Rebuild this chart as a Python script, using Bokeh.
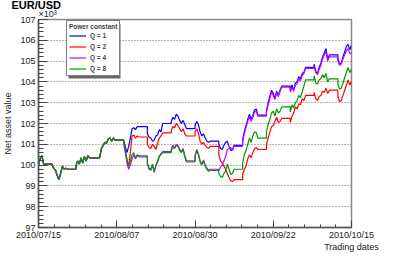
import datetime as dt
from bokeh.plotting import figure
from bokeh.models import FixedTicker, Legend, LegendItem, BoxAnnotation, Title
from bokeh.embed import file_html
from bokeh.resources import INLINE

# ---------------- data ----------------
title_text = "EUR/USD"
x_title = "Trading dates"
y_title = "Net asset value"
y_exponent = "×10³"
legend_header = "Power constant"
series_names = ["Q = 1", "Q = 2", "Q = 4", "Q = 8"]
series_colors = ["#0000ff", "#ff0000", "#cc00ff", "#009900"]
x_tick_days = [0, 23, 46, 69, 92]
x_tick_labels = ["2010/07/15", "2010/08/07", "2010/08/30", "2010/09/22", "2010/10/15"]
y_ticks = list(range(97, 108))
start_date = dt.date(2010, 7, 15)
end_date = dt.date(2010, 10, 15)

# two readings per trading day (x10^3), identical for all Q until 2010/08/06
common_start = [
    100.0, 100.3, 100.45, 100.05,
    100.0, 99.85, 99.75, 99.5, 99.3, 99.6, 99.95, 99.8, 99.85, 99.8,
    99.95, 100.2, 100.05, 100.35, 100.1, 100.4, 100.2, 100.45, 100.35, 100.35,
    100.4, 100.8, 100.95, 101.1, 101.05, 101.25, 101.3, 101.15, 101.3, 101.2,
]

q1_tail = [
    101.2, 100.9, 100.6, 100.9, 101.3, 101.75, 101.8, 101.7, 101.85, 101.85,
    101.5, 101.35, 101.3, 101.15, 101.2, 101.4, 101.45, 101.7, 101.6, 102.0,
    102.1, 102.3, 102.2, 102.45, 102.35, 102.15, 102.0, 102.15, 101.95, 101.75,
    101.9, 102.1, 101.95, 101.6, 101.4, 101.5, 101.3, 101.15, 101.1, 101.15,
    101.0, 100.8, 100.75, 100.95, 101.1, 101.15, 100.9, 100.7, 100.75, 100.95,
    101.2, 101.6, 101.9, 102.2, 102.45, 102.2, 102.4, 102.65, 102.7, 102.4,
    102.6, 103.0, 103.3, 103.6, 103.45, 103.2, 103.55, 103.35, 103.6, 103.8,
    103.6, 103.85, 103.6, 103.95, 104.0, 104.25, 104.15, 104.4, 104.45, 104.7,
    104.85, 104.5, 104.4, 104.7, 104.9, 105.2, 105.4, 105.6, 105.1, 105.3,
    105.1, 104.85, 104.9, 105.2, 105.45, 105.7, 105.8, 105.55, 105.75,
]

q2_tail = [
    101.2, 100.8, 100.2, 99.95, 100.6, 101.4, 101.45, 101.3, 101.4, 101.35,
    101.0, 100.85, 100.8, 101.0, 100.9, 100.75, 101.05, 101.3, 101.4, 101.55,
    101.65, 101.85, 101.8, 102.0, 101.9, 101.75, 101.6, 101.75, 101.5, 101.4,
    101.6, 101.75, 101.55, 101.15, 101.0, 101.1, 100.95, 100.85, 100.8, 100.9,
    100.5, 100.2, 100.1, 99.95, 99.8, 99.6, 99.4, 99.25, 99.2, 99.3,
    99.55, 99.8, 99.95, 100.3, 100.5, 100.35, 100.6, 100.8, 100.85, 100.75,
    101.0, 101.3, 101.6, 101.85, 101.9, 102.1, 102.3, 102.05, 102.1, 102.25,
    102.05, 102.35, 102.5, 102.8, 102.7, 102.95, 102.9, 103.2, 103.1, 103.35,
    103.5, 103.2, 103.1, 103.3, 103.35, 103.55, 103.5, 103.7, 103.45, 103.6,
    103.3, 103.05, 103.1, 103.35, 103.6, 103.85, 104.1, 103.85, 104.0,
]

q4_tail = [
    101.1, 100.6, 100.1, 99.8, 100.0, 100.3, 100.5, 100.3, 100.45, 100.4,
    100.05, 99.8, 99.75, 100.0, 99.65, 99.95, 100.15, 100.4, 100.55, 100.65,
    100.75, 100.95, 100.85, 101.0, 100.95, 100.75, 100.65, 100.8, 100.45, 100.2,
    100.45, 100.75, 100.55, 100.2, 100.05, 100.25, 100.0, 99.85, 99.75, 99.8,
    99.75, 99.9, 100.0, 100.2, 100.4, 100.75, 100.8, 100.85, 100.7, 100.9,
    101.15, 101.5, 101.8, 102.1, 102.35, 102.1, 102.3, 102.55, 102.6, 102.35,
    102.55, 102.9, 103.2, 103.5, 103.35, 103.15, 103.5, 103.3, 103.55, 103.75,
    103.5, 103.75, 103.55, 103.85, 103.9, 104.15, 104.05, 104.3, 104.4, 104.65,
    104.75, 104.45, 104.35, 104.6, 104.8, 105.1, 105.3, 105.45, 105.0, 105.2,
    105.0, 104.8, 104.85, 105.1, 105.3, 105.5, 105.6, 105.35, 105.4,
]

q8_tail = [
    101.1, 100.7, 100.3, 99.95, 100.2, 100.5, 100.6, 100.35, 100.5, 100.45,
    100.1, 99.85, 99.8, 100.05, 99.7, 100.0, 100.2, 100.45, 100.5, 100.6,
    100.7, 100.85, 100.8, 100.95, 100.9, 100.7, 100.6, 100.75, 100.4, 100.15,
    100.4, 100.7, 100.5, 100.15, 100.0, 100.2, 99.95, 99.8, 99.7, 99.75,
    99.6, 99.45, 99.4, 99.6, 99.7, 100.05, 99.8, 99.55, 99.6, 99.8,
    100.1, 100.5, 100.7, 101.0, 101.3, 101.1, 101.4, 101.6, 101.55, 101.3,
    101.6, 101.95, 102.2, 102.5, 102.6, 102.35, 102.7, 102.5, 102.6, 102.8,
    102.55, 102.9, 102.75, 103.0, 103.1, 103.35, 103.25, 103.5, 103.8, 104.1,
    104.3, 103.95, 103.9, 104.1, 104.15, 104.35, 104.2, 104.4, 104.0, 104.15,
    103.9, 103.65, 103.7, 103.95, 104.2, 104.45, 104.7, 104.45, 104.6,
]

series_values = [common_start + q1_tail, common_start + q2_tail,
                 common_start + q4_tail, common_start + q8_tail]

# trading days (calendar-day offsets from 2010/07/15)
days = []
d = start_date
while d <= end_date:
    if d.weekday() < 5:
        days.append((d - start_date).days)
    d += dt.timedelta(days=1)


def build(values):
    xs, ys = [], []
    i = 0
    prev = None
    for n, k in enumerate(days):
        if prev is not None and k - prev > 1:
            xs.append(k)
            ys.append(ys[-1])  # market closed over the weekend
        samples = 1 if n == len(days) - 1 else 2
        for s in range(samples):
            xs.append(k + 0.5 * s)
            ys.append(values[i])
            i += 1
        prev = k
    assert i == len(values), (i, len(values))
    return xs, ys


# ---------------- figure ----------------
FONT = "Liberation Sans"
TXT = "#222222"
p = figure(width=383, height=254, x_range=(0, 92), y_range=(97, 107),
           output_backend="svg", toolbar_location=None,
           min_border_left=32, min_border_right=32,
           min_border_top=19, min_border_bottom=21)
p.background_fill_color = "white"
p.border_fill_color = "white"
p.outline_line_color = "#8a8a8a"
p.outline_line_width = 1.5

p.xgrid.visible = False
p.ygrid.ticker = FixedTicker(ticks=y_ticks[1:-1])
p.ygrid.grid_line_color = "#666666"
p.ygrid.grid_line_dash = "1 2"
p.ygrid.grid_line_width = 1

xmin = [x_tick_days[0] + j * (x_tick_days[1] - x_tick_days[0]) / 5 for j in range(21)]
p.xaxis.ticker = FixedTicker(ticks=x_tick_days, minor_ticks=xmin)
p.xaxis.major_label_overrides = {t: l for t, l in zip(x_tick_days, x_tick_labels)}
ymin = [97 + 0.2 * j for j in range(51)]
p.yaxis.ticker = FixedTicker(ticks=y_ticks, minor_ticks=ymin)

for ax in (p.xaxis[0], p.yaxis[0]):
    ax.axis_line_color = "#555555"
    ax.axis_line_width = 1.5
    ax.major_tick_line_color = "#444444"
    ax.minor_tick_line_color = "#444444"
    ax.major_tick_out = 0
    ax.minor_tick_out = 0
    ax.major_label_text_font = FONT
    ax.major_label_text_font_size = "9px"
    ax.major_label_text_color = TXT
    ax.axis_label_text_font = FONT
    ax.axis_label_text_font_size = "9px"
    ax.axis_label_text_font_style = "normal"
    ax.axis_label_text_color = TXT
p.yaxis.major_tick_in = 9
p.yaxis.minor_tick_in = 5
p.xaxis.major_tick_in = 7
p.xaxis.minor_tick_in = 3
p.yaxis.major_label_standoff = 3
p.xaxis.major_label_standoff = 2

p.yaxis.axis_label = y_title
p.yaxis.axis_label_standoff = 4

xax = p.xaxis[0]
xax.axis_label = x_title
xax.axis_label_align = "end"
xax.axis_label_text_align = "right"
xax.axis_label_standoff = -1

# above the frame: exponent (nearest the frame), then the chart title
p.add_layout(Title(text=y_exponent, align="left", vertical_align="top", offset=0, standoff=-3,
                   text_font=FONT, text_font_size="9px", text_font_style="normal",
                   text_color=TXT), "above")
p.add_layout(Title(text=title_text, align="left", vertical_align="top", offset=-27, standoff=-4,
                   text_font=FONT, text_font_size="11px", text_font_style="bold",
                   text_color="black"), "above")

renderers = []
for vals, col in zip(series_values, series_colors):
    xs, ys = build(vals)
    renderers.append(p.line(xs, ys, line_color=col, line_width=1.2))

# legend with shadow
p.add_layout(BoxAnnotation(left=30, right=82, bottom=149, top=203.5,
                           left_units="screen", right_units="screen",
                           bottom_units="screen", top_units="screen",
                           fill_color="#666666", fill_alpha=1, line_alpha=0))
legend = Legend(items=[LegendItem(label=n, renderers=[r]) for n, r in zip(series_names, renderers)],
                location=(28, 151), title=legend_header,
                title_text_font=FONT, title_text_font_size="6.5px", title_text_font_style="bold",
                title_standoff=1,
                label_text_font=FONT, label_text_font_size="6.5px", label_text_font_style="bold",
                padding=2, margin=0, spacing=2, glyph_height=9, label_height=9,
                glyph_width=17, label_standoff=4,
                border_line_color="black", border_line_width=1,
                background_fill_color="white", background_fill_alpha=1)
p.add_layout(legend)

open("out.html", "w").write(file_html(p, INLINE))
